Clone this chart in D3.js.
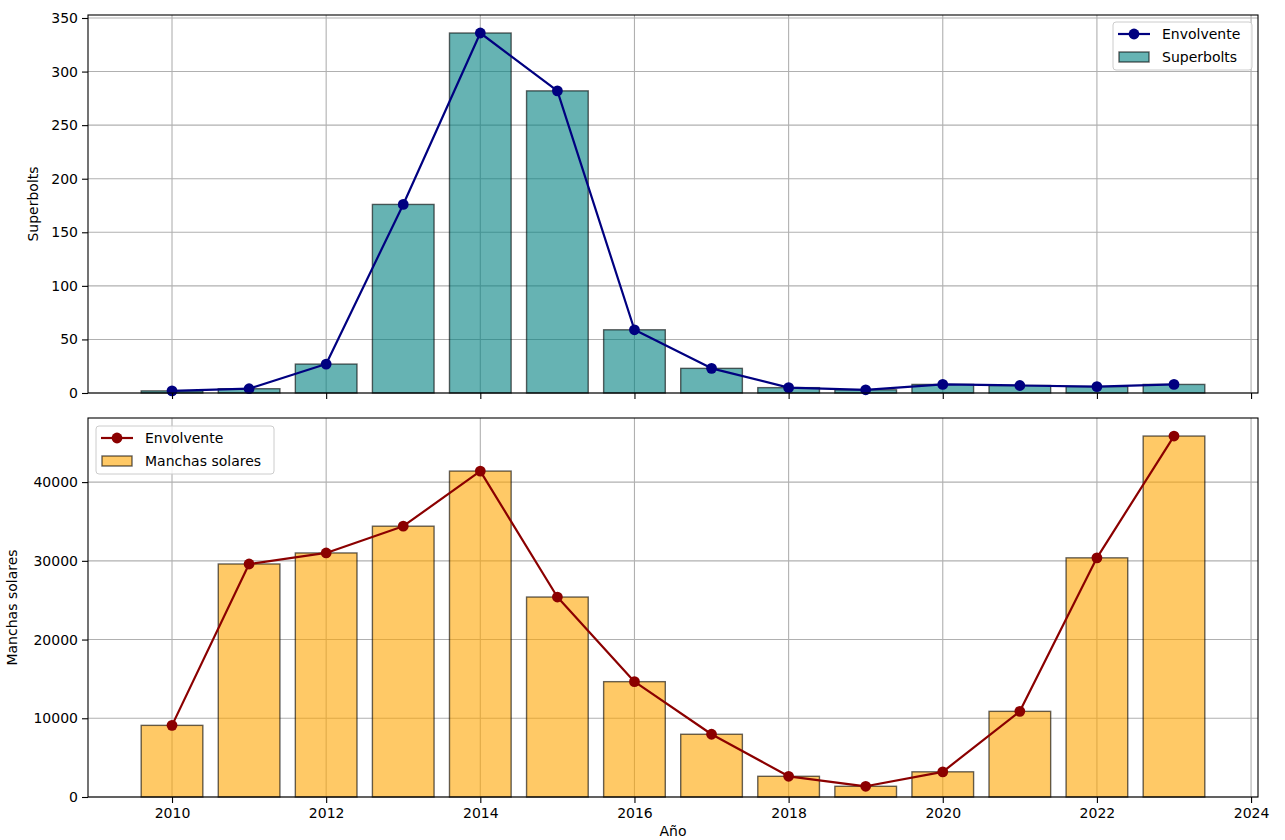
<!DOCTYPE html>
<html>
<head>
<meta charset="utf-8">
<script src="https://cdn.jsdelivr.net/npm/d3@7"></script>
<style>
    body { margin: 0; background: #fff; }
    svg { display: block; }
    svg text { font-family: "DejaVu Sans"; }
</style>
</head>
<body>
<div id="chart"></div>
<script>
// years and the two series
const years = [2010, 2011, 2012, 2013, 2014, 2015, 2016, 2017, 2018, 2019, 2020, 2021, 2022, 2023];
const superbolts = [2, 4, 27, 176, 336, 282, 59, 23, 5, 3, 8, 7, 6, 8];
const manchas = [9100, 29600, 31000, 34400, 41400, 25400, 14650, 7970, 2630, 1360, 3200, 10880, 30380, 45850];
const xTicks = [2010, 2012, 2014, 2016, 2018, 2020, 2022, 2024];
const topTicks = [0, 50, 100, 150, 200, 250, 300, 350];
const bottomTicks = [0, 10000, 20000, 30000, 40000];

const width = 1285;
const height = 840;
const left = 88;
const right = 1258;
const barWidth = 0.8;
const fontSize = 14;
const font = "DejaVu Sans";

const svg = d3.select("#chart").append("svg")
    .attr("width", width)
    .attr("height", height)
    .attr("font-family", font);

// matplotlib-style 5% margins around the bars
const xMin = years[0] - barWidth / 2;
const xMax = years[years.length - 1] + barWidth / 2;
const pad = (xMax - xMin) * 0.05;
const x = d3.scaleLinear().domain([xMin - pad, xMax + pad]).range([left, right]);

function addText(sel, str) {
    return sel.append("text")
        .attr("font-family", font)
        .attr("font-size", fontSize)
        .attr("fill", "#000")
        .text(str);
}

function panel(opts) {
    const { top, bottom, values, ticks, fill, lineColor, label, labelX, barLabel, legendPos, showXLabels } = opts;
    const y = d3.scaleLinear().domain([0, d3.max(values) * 1.05]).range([bottom, top]);
    const g = svg.append("g");

    // grid
    g.append("g").selectAll("line")
        .data(xTicks)
        .join("line")
        .attr("x1", d => x(d)).attr("x2", d => x(d))
        .attr("y1", top).attr("y2", bottom)
        .attr("stroke", "#b0b0b0").attr("stroke-width", 1.1);
    g.append("g").selectAll("line")
        .data(ticks)
        .join("line")
        .attr("x1", left).attr("x2", right)
        .attr("y1", d => y(d)).attr("y2", d => y(d))
        .attr("stroke", "#b0b0b0").attr("stroke-width", 1.1);

    // bars
    g.append("g").selectAll("rect")
        .data(years)
        .join("rect")
        .attr("x", d => x(d - barWidth / 2))
        .attr("width", x(barWidth) - x(0))
        .attr("y", (d, i) => y(values[i]))
        .attr("height", (d, i) => y(0) - y(values[i]))
        .attr("fill", fill).attr("fill-opacity", 0.6)
        .attr("stroke", "#000").attr("stroke-opacity", 0.6).attr("stroke-width", 1.4);

    // envelope line
    const line = d3.line().x((d, i) => x(years[i])).y(d => y(d));
    g.append("path")
        .attr("d", line(values))
        .attr("fill", "none")
        .attr("stroke", lineColor)
        .attr("stroke-width", 2.2)
        .attr("stroke-linejoin", "round");
    g.append("g").selectAll("circle")
        .data(values)
        .join("circle")
        .attr("cx", (d, i) => x(years[i]))
        .attr("cy", d => y(d))
        .attr("r", 5.4)
        .attr("fill", lineColor);

    // axes
    const yAxis = g.append("g")
        .attr("transform", `translate(${left},0)`)
        .call(d3.axisLeft(y).tickValues(ticks).tickSize(6).tickPadding(4).tickFormat(d3.format("d")));
    const xAxis = g.append("g")
        .attr("transform", `translate(0,${bottom})`)
        .call(d3.axisBottom(x).tickValues(xTicks).tickSize(6).tickPadding(5).tickFormat(showXLabels ? d3.format("d") : ""));
    [yAxis, xAxis].forEach(axis => {
        axis.attr("font-size", fontSize).attr("font-family", font);
        axis.select(".domain").remove();
        axis.selectAll("line").attr("stroke", "#000").attr("stroke-width", 1.1);
        axis.selectAll("text").attr("fill", "#000").attr("font-family", font).attr("font-size", fontSize);
    });

    g.append("rect")
        .attr("x", left).attr("y", top)
        .attr("width", right - left).attr("height", bottom - top)
        .attr("fill", "none").attr("stroke", "#000").attr("stroke-width", 1.1);

    addText(g, label)
        .attr("transform", `translate(${labelX},${(top + bottom) / 2}) rotate(-90)`)
        .attr("text-anchor", "middle");

    // legend
    const [lx, ly, lw] = legendPos;
    const lg = g.append("g").attr("transform", `translate(${lx},${ly})`);
    lg.append("rect")
        .attr("width", lw).attr("height", 48).attr("rx", 3)
        .attr("fill", "#fff").attr("fill-opacity", 0.8)
        .attr("stroke", "#cccccc").attr("stroke-width", 1);
    lg.append("line")
        .attr("x1", 5).attr("x2", 37).attr("y1", 12).attr("y2", 12)
        .attr("stroke", lineColor).attr("stroke-width", 2.2);
    lg.append("circle").attr("cx", 21).attr("cy", 12).attr("r", 5.4).attr("fill", lineColor);
    lg.append("rect")
        .attr("x", 6).attr("y", 30).attr("width", 30).attr("height", 10)
        .attr("fill", fill).attr("fill-opacity", 0.6)
        .attr("stroke", "#000").attr("stroke-opacity", 0.6).attr("stroke-width", 1.4);
    addText(lg, "Envolvente").attr("x", 49).attr("y", 12).attr("dy", "0.35em");
    addText(lg, barLabel).attr("x", 49).attr("y", 35).attr("dy", "0.35em");
}

panel({
    top: 15, bottom: 393, values: superbolts, ticks: topTicks,
    fill: "teal", lineColor: "navy", label: "Superbolts", labelX: 38,
    barLabel: "Superbolts", legendPos: [1113, 22, 139], showXLabels: false
});
panel({
    top: 418, bottom: 797, values: manchas, ticks: bottomTicks,
    fill: "orange", lineColor: "darkred", label: "Manchas solares", labelX: 17,
    barLabel: "Manchas solares", legendPos: [96, 426, 178], showXLabels: true
});

addText(svg, "Año")
    .attr("x", (left + right) / 2)
    .attr("y", 836)
    .attr("text-anchor", "middle");
</script>
</body>
</html>
